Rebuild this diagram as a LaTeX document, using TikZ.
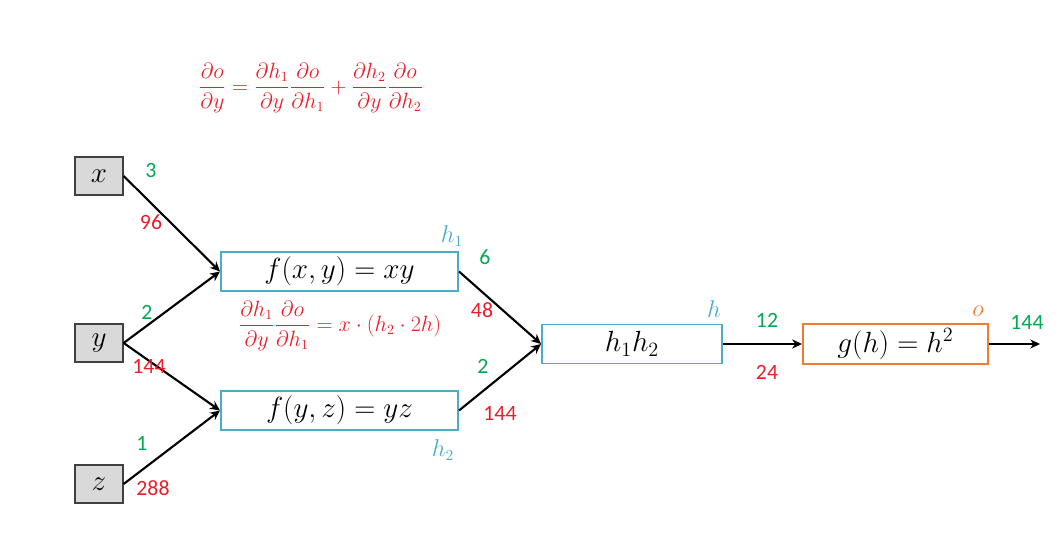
\documentclass[tikz,border=0pt]{standalone}
\usepackage{amsmath}
\usepackage{fontspec}
\usepackage{graphicx}
\newfontfamily\numfont{Carlito}
\usetikzlibrary{arrows.meta}
\definecolor{ngreen}{RGB}{0,170,80}
\definecolor{nred}{RGB}{232,30,40}
\definecolor{nblue}{RGB}{75,172,198}
\definecolor{norange}{RGB}{237,125,49}
\definecolor{ngray}{RGB}{217,217,217}
\tikzset{
  inbox/.style={draw=black!75, fill=ngray, line width=0.9pt, minimum width=1.2cm, minimum height=0.95cm, inner sep=0pt, font=\fontsize{20}{24}\selectfont},
  fbox/.style={draw=nblue, line width=1.4pt, minimum height=0.975cm, inner sep=0pt, font=\fontsize{20}{24}\selectfont},
  gbox/.style={draw=norange, line width=1.4pt, minimum width=4.625cm, minimum height=1cm, inner sep=0pt, font=\fontsize{20}{24}\selectfont},
  conn/.style={line width=1.5pt, -{Stealth[length=7pt,width=6.5pt]}},
  gnum/.style={text=ngreen, font=\numfont\fontsize{15.5}{17}\selectfont, inner sep=0pt},
  rnum/.style={text=nred, font=\numfont\fontsize{15.5}{17}\selectfont, inner sep=0pt},
  blab/.style={text=nblue, font=\fontsize{16}{18}\selectfont, inner sep=0pt},
  olab/.style={text=norange, font=\fontsize{16}{18}\selectfont, inner sep=0pt},
  formula/.style={text=nred, font=\fontsize{16}{19}\selectfont, inner sep=0pt}
}
\begin{document}
\begin{tikzpicture}[x=0.025cm,y=-0.025cm]
\useasboundingbox (0,0) rectangle (1060,557);
\node[inbox] (x) at (99,176) {$x$};
\node[inbox] (y) at (99,343) {$y$};
\node[inbox] (z) at (99,484) {$z$};
\node[fbox, minimum width=5.925cm] (f1) at (339.5,271.5) {$f(x,y)=xy$};
\node[fbox, minimum width=5.925cm] (f2) at (339.5,410.5) {$f(y,z)=yz$};
\node[fbox, minimum width=4.5cm] (hh) at (632,344) {$h_1h_2$};
\node[gbox] (g) at (895.5,344) {$g(h)=h^2$};
\coordinate (out) at (1040,344);

\draw[conn] (x.east) -- (f1.west);
\draw[conn] (y.east) -- (f1.west);
\draw[conn] (y.east) -- (f2.west);
\draw[conn] (z.east) -- (f2.west);
\draw[conn] (f1.east) -- (hh.west);
\draw[conn] (f2.east) -- (hh.west);
\draw[conn] (hh.east) -- (g.west);
\draw[conn] (g.east) -- (out);

\node[gnum] (l3) at (151,171) {3};
\node[rnum] (l96) at (151,222) {96};
\node[gnum] (l2a) at (147,312) {2};
\node[rnum] (l144a) at (149,366) {144};
\node[gnum] (l1) at (142,443) {1};
\node[rnum] (l288) at (153,488) {288};
\node[blab] (lh1) at (452,236) {$h_1$};
\node[gnum] (l6) at (485,257) {6};
\node[rnum] (l48) at (482,310) {48};
\node[gnum] (l2b) at (483,366) {2};
\node[rnum] (l144b) at (500,413) {144};
\node[blab] (lh2) at (443,450) {$h_2$};
\node[blab] (lh) at (714,309) {$h$};
\node[gnum] (l12) at (767,320) {12};
\node[rnum] (l24) at (767,372) {24};
\node[olab] (lo) at (978,311) {$o$};
\node[gnum] (l144c) at (1027,322) {144};

\node[formula] (top) at (311,88) {\scalebox{0.91}{$\dfrac{\partial o}{\partial y}=\dfrac{\partial h_1}{\partial y}\dfrac{\partial o}{\partial h_1}+\dfrac{\partial h_2}{\partial y}\dfrac{\partial o}{\partial h_2}$}};
\node[formula] (mid) at (340,326) {\scalebox{0.91}{$\dfrac{\partial h_1}{\partial y}\dfrac{\partial o}{\partial h_1}=x\cdot(h_2\cdot 2h)$}};
\end{tikzpicture}
\end{document}
